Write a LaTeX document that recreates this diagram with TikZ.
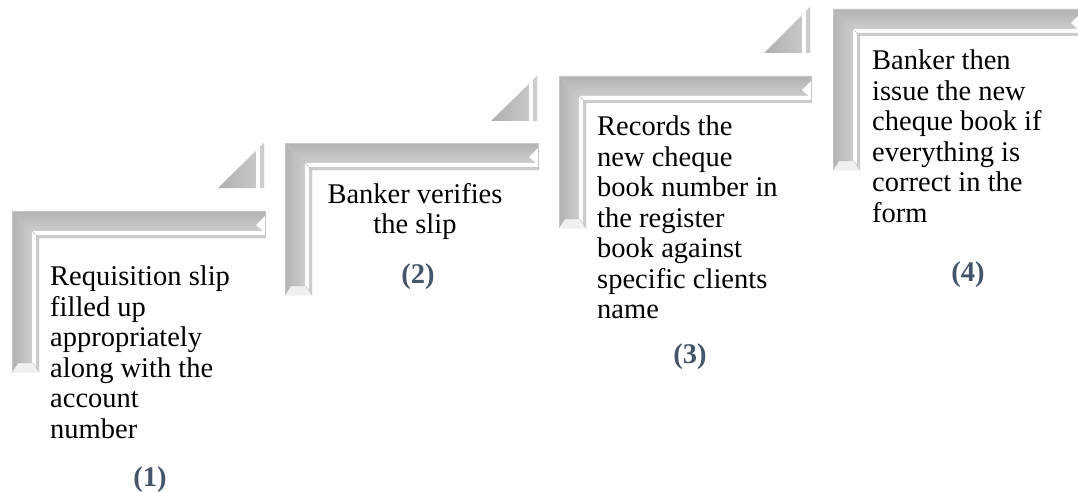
\documentclass[tikz,border=0pt]{standalone}
\usepackage{fontspec}
\setmainfont{Liberation Serif}
\definecolor{lab}{HTML}{44546A}
\tikzset{
  body/.style={font=\fontsize{28.5}{30.5}\selectfont, inner sep=0pt, align=left, anchor=north west, text=black},
  num/.style={font=\fontsize{28.5}{30.5}\selectfont\bfseries, inner sep=0pt, text=lab, anchor=base},
  edge/.style={draw=gray!45, line width=0.5pt}
}
% L T R B
\newcommand\stairbar[4]{%
  \shade[top color=gray!60, bottom color=gray!32] (#1,#2) -- (#3,#2) -- (#3,{#2+27}) -- ({#1+27},{#2+27}) -- cycle;
  \shade[left color=gray!60, right color=gray!32] (#1,#2) -- ({#1+27},{#2+27}) -- ({#1+27},#4) -- (#1,#4) -- cycle;
  \fill[white] ({#1+20},{#2+20}) -- (#3,{#2+20}) -- (#3,{#2+24}) -- ({#1+24},{#2+24}) -- cycle;
  \fill[gray!40] ({#1+24},{#2+24}) -- (#3,{#2+24}) -- (#3,{#2+27}) -- ({#1+27},{#2+27}) -- cycle;
  \fill[white] ({#1+20},{#2+20}) -- ({#1+24},{#2+24}) -- ({#1+24},#4) -- ({#1+20},#4) -- cycle;
  \fill[gray!40] ({#1+24},{#2+24}) -- ({#1+27},{#2+27}) -- ({#1+27},#4) -- ({#1+24},#4) -- cycle;
  \fill[gray!12] (#1,#4) -- ({#1+6},{#4-9}) -- ({#1+21},{#4-9}) -- ({#1+27},#4) -- cycle;
  \draw[gray!55, line width=0.4pt] (#1,#4) -- ({#1+6},{#4-9}) -- ({#1+21},{#4-9}) -- ({#1+27},#4);
  \draw[gray!50, line width=0.4pt] (#1,#2) -- ({#1+27},{#2+27});
  \fill[white] (#3,{#2+5}) -- ({#3-9},{#2+14}) -- (#3,{#2+22}) -- cycle;
  \draw[edge] (#1,#4) -- (#1,#2) -- (#3,#2) -- (#3,{#2+27});
}
% R T B
\newcommand\stairtri[3]{%
  \shade[left color=gray!62, right color=gray!40] ({#1-46},#3) -- (#1,#2) -- (#1,#3) -- cycle;
  \fill[white] ({#1-8},{#2+8}) -- ({#1-4},{#2+4}) -- ({#1-4},#3) -- ({#1-8},#3) -- cycle;
  \fill[gray!40] ({#1-4},{#2+4}) -- (#1,#2) -- (#1,#3) -- ({#1-4},#3) -- cycle;
}
\begin{document}
\begin{tikzpicture}[x=1pt,y=-1pt]
  \useasboundingbox (0,0) rectangle (1078,492);
  \clip (0,0) rectangle (1078,492);
  \stairbar{12}{211}{265}{372}
  \stairtri{264}{143}{188}
  \stairbar{285}{143}{538}{295}
  \stairtri{537}{76}{121}
  \stairbar{559}{76}{811}{228}
  \stairtri{810}{7}{53}
  \stairbar{833}{9}{1080}{170}

  \node[body] (t1) at (50,266) {Requisition slip\\filled up\\appropriately\\along with the\\account\\number};
  \node[body, align=center, anchor=north] (t2) at (415,183) {Banker verifies\\the slip};
  \node[body] (t3) at (597,116) {Records the\\new cheque\\book number in\\the register\\book against\\specific clients\\name};
  \node[body] (t4) at (872,50) {Banker then\\issue the new\\cheque book if\\everything is\\correct in the\\form};

  \node[num] (n1) at (150,486) {(1)};
  \node[num] (n2) at (418,283) {(2)};
  \node[num] (n3) at (690,363) {(3)};
  \node[num] (n4) at (968,281) {(4)};
\end{tikzpicture}
\end{document}
